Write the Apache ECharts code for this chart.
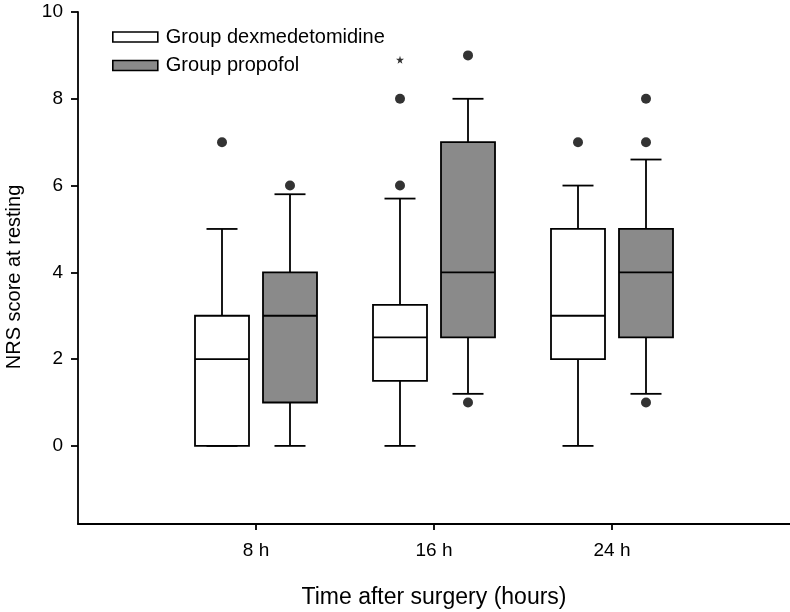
<!DOCTYPE html>
<html>
<head>
<meta charset="utf-8">
<script src="https://cdn.jsdelivr.net/npm/echarts@6/dist/echarts.min.js"></script>
<style>
html,body{margin:0;padding:0;background:#fff;}
#chart{width:790px;height:612px;}
</style>
</head>
<body>
<div id="chart"></div>
<script>
// ---- data ----
const timePoints = [8, 16, 24];
const timeLabels = ['8 h', '16 h', '24 h'];
const yTickValues = [0, 2, 4, 6, 8, 10];
const seriesNames = ['Group dexmedetomidine', 'Group propofol'];

const dexMin = [0, 0, 0];
const dexQ1 = [0, 1.5, 2];
const dexMedian = [2, 2.5, 3];
const dexQ3 = [3, 3.25, 5];
const dexMax = [5, 5.7, 6];
const dexOutlierTimes = [8, 16, 16, 24];
const dexOutlierValues = [7, 6, 8, 7];
const dexExtremeTimes = [16];
const dexExtremeValues = [8.9];

const propMin = [0, 1.2, 1.2];
const propQ1 = [1, 2.5, 2.5];
const propMedian = [3, 4, 4];
const propQ3 = [4, 7, 5];
const propMax = [5.8, 8, 6.6];
const propOutlierTimes = [8, 16, 16, 24, 24, 24];
const propOutlierValues = [6, 1, 9, 1, 7, 8];

// ---- build ----
const FONT = 'Liberation Sans, Arial, sans-serif';
const OFFSET = 34, BOXW = 54, CAPW = 31, LW = 1.8;

function boxRows(mins, q1s, meds, q3s, maxs) {
  return timePoints.map((t, i) => [t, mins[i], q1s[i], meds[i], q3s[i], maxs[i]]);
}
function pairs(xs, ys) { return xs.map((x, i) => [x, ys[i]]); }

function makeBoxRenderer(offset, fill) {
  return function (params, api) {
    const x = api.value(0);
    const pMin = api.coord([x, api.value(1)]);
    const pQ1 = api.coord([x, api.value(2)]);
    const pMed = api.coord([x, api.value(3)]);
    const pQ3 = api.coord([x, api.value(4)]);
    const pMax = api.coord([x, api.value(5)]);
    const cx = pMin[0] + offset;
    const ls = { stroke: '#000', lineWidth: LW };
    return {
      type: 'group',
      children: [
        { type: 'line', shape: { x1: cx, y1: pQ1[1], x2: cx, y2: pMin[1] }, style: ls },
        { type: 'line', shape: { x1: cx - CAPW / 2, y1: pMin[1], x2: cx + CAPW / 2, y2: pMin[1] }, style: ls },
        { type: 'line', shape: { x1: cx, y1: pQ3[1], x2: cx, y2: pMax[1] }, style: ls },
        { type: 'line', shape: { x1: cx - CAPW / 2, y1: pMax[1], x2: cx + CAPW / 2, y2: pMax[1] }, style: ls },
        { type: 'rect', shape: { x: cx - BOXW / 2, y: pQ3[1], width: BOXW, height: pQ1[1] - pQ3[1] },
          style: { fill: fill, stroke: '#000', lineWidth: LW } },
        { type: 'line', shape: { x1: cx - BOXW / 2, y1: pMed[1], x2: cx + BOXW / 2, y2: pMed[1] }, style: ls }
      ]
    };
  };
}

const starPath = 'path://M50,0 L61,35 L98,35 L68,57 L79,91 L50,70 L21,91 L32,57 L2,35 L39,35 Z';

const chart = echarts.init(document.getElementById('chart'));
chart.setOption({
  backgroundColor: '#fff',
  animation: false,
  textStyle: { fontFamily: FONT, color: '#000' },
  grid: { left: 78, right: 0, top: 12, bottom: 88, containLabel: false, outerBoundsMode: 'none' },
  legend: {
    orient: 'vertical',
    left: 107,
    top: 22,
    icon: 'rect',
    itemWidth: 45,
    itemHeight: 10,
    itemGap: 8.5,
    textStyle: { fontFamily: FONT, fontSize: 20, color: '#000', padding: [0, 0, 0, 3], lineHeight: 20 },
    data: [
      { name: seriesNames[0], itemStyle: { color: '#ffffff', borderColor: '#000', borderWidth: 1.6 } },
      { name: seriesNames[1], itemStyle: { color: '#8a8a8a', borderColor: '#000', borderWidth: 1.6 } }
    ]
  },
  xAxis: {
    type: 'value',
    min: 0,
    max: 32,
    interval: 8,
    name: 'Time after surgery (hours)',
    nameLocation: 'middle',
    nameGap: 62,
    nameTextStyle: { fontFamily: FONT, fontSize: 23, color: '#000' },
    splitLine: { show: false },
    axisLine: { show: true, onZero: false, lineStyle: { color: '#000', width: 1.8 } },
    axisTick: { show: true, length: 6, lineStyle: { color: '#000', width: 1.8 }, customValues: timePoints },
    axisLabel: {
      fontFamily: FONT, fontSize: 19, color: '#000', margin: 17,
      customValues: timePoints,
      formatter: function (v) { const i = timePoints.indexOf(v); return i >= 0 ? timeLabels[i] : ''; }
    }
  },
  yAxis: {
    type: 'value',
    min: -1.8,
    max: 10,
    name: 'NRS score at resting',
    nameLocation: 'middle',
    nameGap: 54,
    nameTextStyle: { fontFamily: FONT, fontSize: 20, color: '#000', padding: [0, 18, 0, 0] },
    splitLine: { show: false },
    axisLine: { show: true, onZero: false, lineStyle: { color: '#000', width: 1.8 } },
    axisTick: { show: true, length: 7, lineStyle: { color: '#000', width: 1.8 }, customValues: yTickValues },
    axisLabel: { fontFamily: FONT, fontSize: 19, color: '#000', margin: 15, customValues: yTickValues }
  },
  series: [
    {
      name: seriesNames[0], type: 'custom',
      itemStyle: { color: '#ffffff', borderColor: '#000' },
      renderItem: makeBoxRenderer(-OFFSET, '#ffffff'),
      encode: { x: 0, y: [1, 2, 3, 4, 5] },
      data: boxRows(dexMin, dexQ1, dexMedian, dexQ3, dexMax),
      z: 2
    },
    {
      name: seriesNames[1], type: 'custom',
      itemStyle: { color: '#8a8a8a', borderColor: '#000' },
      renderItem: makeBoxRenderer(OFFSET, '#8a8a8a'),
      encode: { x: 0, y: [1, 2, 3, 4, 5] },
      data: boxRows(propMin, propQ1, propMedian, propQ3, propMax),
      z: 2
    },
    {
      name: 'dexOutliers', type: 'scatter', symbol: 'circle', symbolSize: 10,
      symbolOffset: [-OFFSET, 0], itemStyle: { color: '#000' },
      data: pairs(dexOutlierTimes, dexOutlierValues), z: 3
    },
    {
      name: 'dexExtremes', type: 'scatter', symbol: starPath, symbolSize: 8,
      symbolOffset: [-OFFSET, 0], itemStyle: { color: '#000' },
      data: pairs(dexExtremeTimes, dexExtremeValues), z: 3
    },
    {
      name: 'propOutliers', type: 'scatter', symbol: 'circle', symbolSize: 10,
      symbolOffset: [OFFSET, 0], itemStyle: { color: '#000' },
      data: pairs(propOutlierTimes, propOutlierValues), z: 3
    }
  ]
});
</script>
</body>
</html>
